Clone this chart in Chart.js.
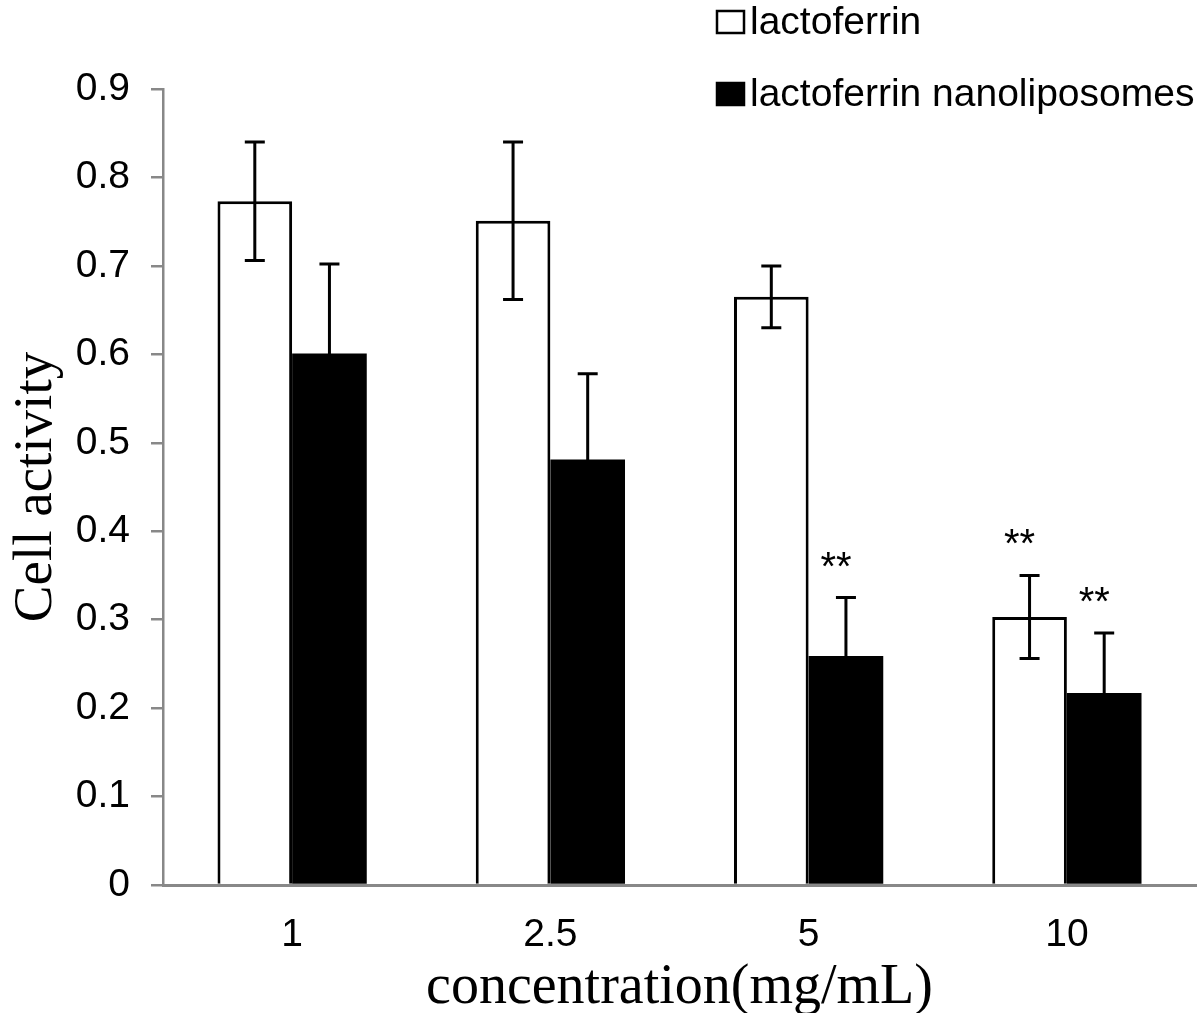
<!DOCTYPE html>
<html>
<head>
<meta charset="utf-8">
<script src="https://cdn.jsdelivr.net/npm/chart.js@4.4.1/dist/chart.umd.min.js"></script>
<style>
  html, body { margin: 0; padding: 0; background: #fff; }
  #wrap { width: 1200px; height: 1013px; }
</style>
</head>
<body>
<div id="wrap"><canvas id="chart" width="1200" height="1013"></canvas></div>
<script>
// datos
const categories = ['1', '2.5', '5', '10'];
const lactoferrin = [0.773, 0.751, 0.665, 0.303];
const lactoferrinErr = [0.067, 0.089, 0.035, 0.047];
const nanoliposomes = [0.601, 0.481, 0.259, 0.217];
const nanoliposomesErr = [0.101, 0.097, 0.066, 0.068];
const lactoferrinSig = ['', '', '', '**'];
const nanoliposomesSig = ['', '', '**', '**'];
const yTicks = [0, 0.1, 0.2, 0.3, 0.4, 0.5, 0.6, 0.7, 0.8, 0.9];

const errors = [lactoferrinErr, nanoliposomesErr];
const sigMarks = [lactoferrinSig, nanoliposomesSig];
const axisGray = '#888888';
const sansFont = '"Liberation Sans", Arial, sans-serif';
const serifFont = '"Liberation Serif", "Times New Roman", serif';

// barras de error con tapas
const errorBarsPlugin = {
  id: 'errorBars',
  afterDatasetsDraw(chart) {
    const ctx = chart.ctx;
    const y = chart.scales.y;
    ctx.save();
    ctx.strokeStyle = '#000';
    ctx.lineWidth = 3;
    chart.data.datasets.forEach((ds, i) => {
      const meta = chart.getDatasetMeta(i);
      meta.data.forEach((bar, j) => {
        const v = ds.data[j];
        const e = errors[i][j];
        const top = y.getPixelForValue(v + e);
        const bot = y.getPixelForValue(v - e);
        const half = 10;
        ctx.beginPath();
        ctx.moveTo(bar.x, top);
        ctx.lineTo(bar.x, bot);
        ctx.moveTo(bar.x - half, top);
        ctx.lineTo(bar.x + half, top);
        ctx.moveTo(bar.x - half, bot);
        ctx.lineTo(bar.x + half, bot);
        ctx.stroke();

        // asteriscos de significancia
        const mark = sigMarks[i][j];
        if (mark) {
          ctx.fillStyle = '#000';
          ctx.font = '40px ' + sansFont;
          ctx.textAlign = 'center';
          ctx.textBaseline = 'alphabetic';
          ctx.fillText(mark, bar.x - 10, top - 18);
        }
      });
    });
    ctx.restore();
  }
};

// leyenda arriba a la derecha, una línea por serie
const legendPlugin = {
  id: 'sideLegend',
  afterDraw(chart) {
    const ctx = chart.ctx;
    const rows = [22, 94];
    ctx.save();
    ctx.font = '39px ' + sansFont;
    ctx.textAlign = 'left';
    ctx.textBaseline = 'middle';
    chart.data.datasets.forEach((ds, i) => {
      const cy = rows[i];
      const bx = 717, bw = 27, bh = 22;
      ctx.fillStyle = ds.backgroundColor;
      ctx.fillRect(bx, cy - bh / 2, bw, bh);
      ctx.lineWidth = 2.5;
      ctx.strokeStyle = '#000';
      ctx.strokeRect(bx, cy - bh / 2, bw, bh);
      ctx.fillStyle = '#000';
      ctx.fillText(ds.label, 750, cy + 1);
    });
    ctx.restore();
  }
};

const ctx = document.getElementById('chart').getContext('2d');
new Chart(ctx, {
  type: 'bar',
  data: {
    labels: categories,
    datasets: [
      {
        label: 'lactoferrin',
        data: lactoferrin,
        backgroundColor: '#ffffff',
        borderColor: '#000000',
        borderWidth: 3
      },
      {
        label: 'lactoferrin nanoliposomes',
        data: nanoliposomes,
        backgroundColor: '#000000',
        borderColor: '#000000',
        borderWidth: 0
      }
    ]
  },
  options: {
    responsive: false,
    animation: false,
    layout: { padding: { top: 89, right: 4, left: 0, bottom: 0 } },
    plugins: {
      legend: { display: false },
      tooltip: { enabled: false }
    },
    datasets: {
      bar: { categoryPercentage: 0.578, barPercentage: 1.0 }
    },
    scales: {
      x: {
        z: 1,
        grid: { display: true, drawOnChartArea: false, drawTicks: false },
        border: { display: true, color: axisGray, width: 3 },
        ticks: {
          color: '#000',
          padding: 27,
          font: { family: sansFont, size: 39 }
        },
        title: {
          display: true,
          text: 'concentration(mg/mL)',
          color: '#000',
          padding: 0,
          font: { family: serifFont, size: 56, lineHeight: 0.9 }
        },
        afterFit(scale) { scale.height = 128; }
      },
      y: {
        min: 0,
        max: 0.9,
        afterBuildTicks(scale) { scale.ticks = yTicks.map(v => ({ value: v })); },
        grid: { display: true, drawOnChartArea: false, drawTicks: true, tickLength: 12, color: axisGray, lineWidth: 2.5 },
        border: { display: true, color: axisGray, width: 2.5 },
        ticks: {
          color: '#000',
          padding: 21,
          font: { family: sansFont, size: 39 },
          callback: v => String(Math.round(v * 10) / 10)
        },
        title: {
          display: true,
          text: 'Cell activity',
          color: '#000',
          padding: { top: 5, bottom: 0 },
          font: { family: serifFont, size: 55, lineHeight: 1.15 }
        },
        afterFit(scale) { scale.width = 163; }
      }
    }
  },
  plugins: [errorBarsPlugin, legendPlugin]
});
</script>
</body>
</html>
